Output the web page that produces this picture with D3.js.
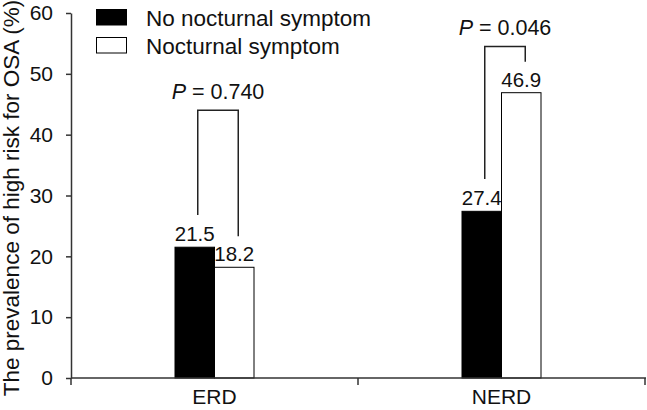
<!DOCTYPE html>
<html>
<head>
<meta charset="utf-8">
<script src="https://cdn.jsdelivr.net/npm/d3@7"></script>
<style>
  html, body { margin: 0; padding: 0; background: #fff; }
  svg { display: block; font-family: "Liberation Sans", Arial, Helvetica, sans-serif; }
</style>
</head>
<body>
<svg id="chart" width="647" height="410"></svg>
<script>
// ---- data ----
const categories = ["ERD", "NERD"];
const seriesNames = ["No nocturnal symptom", "Nocturnal symptom"];
const noNocturnal = [21.5, 27.4];
const nocturnal = [18.2, 46.9];
const pValues = ["0.740", "0.046"];
const bracketTops = [44, 54.5];
const yTicks = [0, 10, 20, 30, 40, 50, 60];
const yTitle = "The prevalence of high risk for OSA (%)";

// ---- layout ----
const svg = d3.select("#chart");
const x0 = 71, x1 = 645, yBottom = 378, yTop = 13;

const y = d3.scaleLinear().domain([0, 60]).range([yBottom, yTop]);
const x = d3.scaleBand().domain(categories).range([x0, x1]).paddingInner(0).paddingOuter(0);
const barW = 39.5;
const xs = d3.scaleBand().domain(seriesNames).range([0, 2 * barW]);

const axisColor = "#333";

// bars
const series = [noNocturnal, nocturnal];
const fills = ["#000", "#fff"];
categories.forEach((c, i) => {
  const cx = x(c) + x.bandwidth() / 2 - barW;
  seriesNames.forEach((s, j) => {
    const v = series[j][i];
    svg.append("rect")
      .attr("x", cx + xs(s))
      .attr("y", y(v))
      .attr("width", xs.bandwidth())
      .attr("height", y(0) - y(v))
      .attr("fill", fills[j])
      .attr("stroke", "#000")
      .attr("stroke-width", 1);
    svg.append("text")
      .attr("x", cx + xs(s) + xs.bandwidth() / 2)
      .attr("y", y(v) - 6)
      .attr("text-anchor", "middle")
      .attr("font-size", 20.5)
      .attr("fill", "#111")
      .text(v.toFixed(1));
  });

  // bracket
  const lx = cx + xs(seriesNames[0]) + xs.bandwidth() / 2 + 3;
  const rx = cx + xs(seriesNames[1]) + xs.bandwidth() / 2 + 4;
  const top = y(bracketTops[i]);
  const lEnd = y(noNocturnal[i] + 5.3);
  const rEnd = y(nocturnal[i] + 5.1);
  svg.append("path")
    .attr("d", `M${lx},${lEnd}V${top}H${rx}V${rEnd}`)
    .attr("fill", "none")
    .attr("stroke", "#222")
    .attr("stroke-width", 1.5);
  const pt = svg.append("text")
    .attr("x", (lx + rx) / 2)
    .attr("y", top - 11)
    .attr("text-anchor", "middle")
    .attr("font-size", 21.5)
    .attr("fill", "#111");
  pt.append("tspan").attr("font-style", "italic").text("P");
  pt.append("tspan").text(" = " + pValues[i]);
});

// y axis
const yAxis = svg.append("g")
  .attr("transform", `translate(${x0},0)`)
  .call(d3.axisLeft(y).tickValues(yTicks).tickSize(5).tickPadding(13).tickSizeOuter(0));
yAxis.select(".domain").attr("stroke", axisColor).attr("stroke-width", 1.5);
yAxis.selectAll(".tick line").attr("stroke", axisColor).attr("stroke-width", 1.5);
yAxis.selectAll(".tick text").attr("font-size", 21).attr("fill", "#111")
  .attr("font-family", "Liberation Sans, Arial, sans-serif");

// x axis
const xAxisG = svg.append("g").attr("transform", `translate(0,${yBottom})`);
xAxisG.append("line").attr("x1", x0).attr("x2", x1 + 1).attr("y1", 0).attr("y2", 0)
  .attr("stroke", axisColor).attr("stroke-width", 1.5);
const boundaries = categories.map(c => x(c) + x.bandwidth()).concat([x0]);
boundaries.forEach(b => {
  xAxisG.append("line").attr("x1", b).attr("x2", b).attr("y1", 0).attr("y2", 7)
    .attr("stroke", axisColor).attr("stroke-width", 1.5);
});
categories.forEach(c => {
  xAxisG.append("text")
    .attr("x", x(c) + x.bandwidth() / 2)
    .attr("y", 26)
    .attr("text-anchor", "middle")
    .attr("font-size", 21)
    .attr("fill", "#111")
    .text(c);
});

// y title
svg.append("text")
  .attr("transform", `translate(19,198) rotate(-90)`)
  .attr("text-anchor", "middle")
  .attr("font-size", 22.5)
  .attr("fill", "#111")
  .text(yTitle);

// legend
seriesNames.forEach((s, j) => {
  const ly = 9 + j * 28;
  svg.append("rect")
    .attr("x", 96.5).attr("y", ly + 0.5)
    .attr("width", 30).attr("height", 15.5)
    .attr("fill", fills[j]).attr("stroke", "#000").attr("stroke-width", 1);
  svg.append("text")
    .attr("x", 146).attr("y", ly + 17)
    .attr("font-size", 22.5)
    .attr("fill", "#111")
    .text(s);
});
</script>
</body>
</html>
